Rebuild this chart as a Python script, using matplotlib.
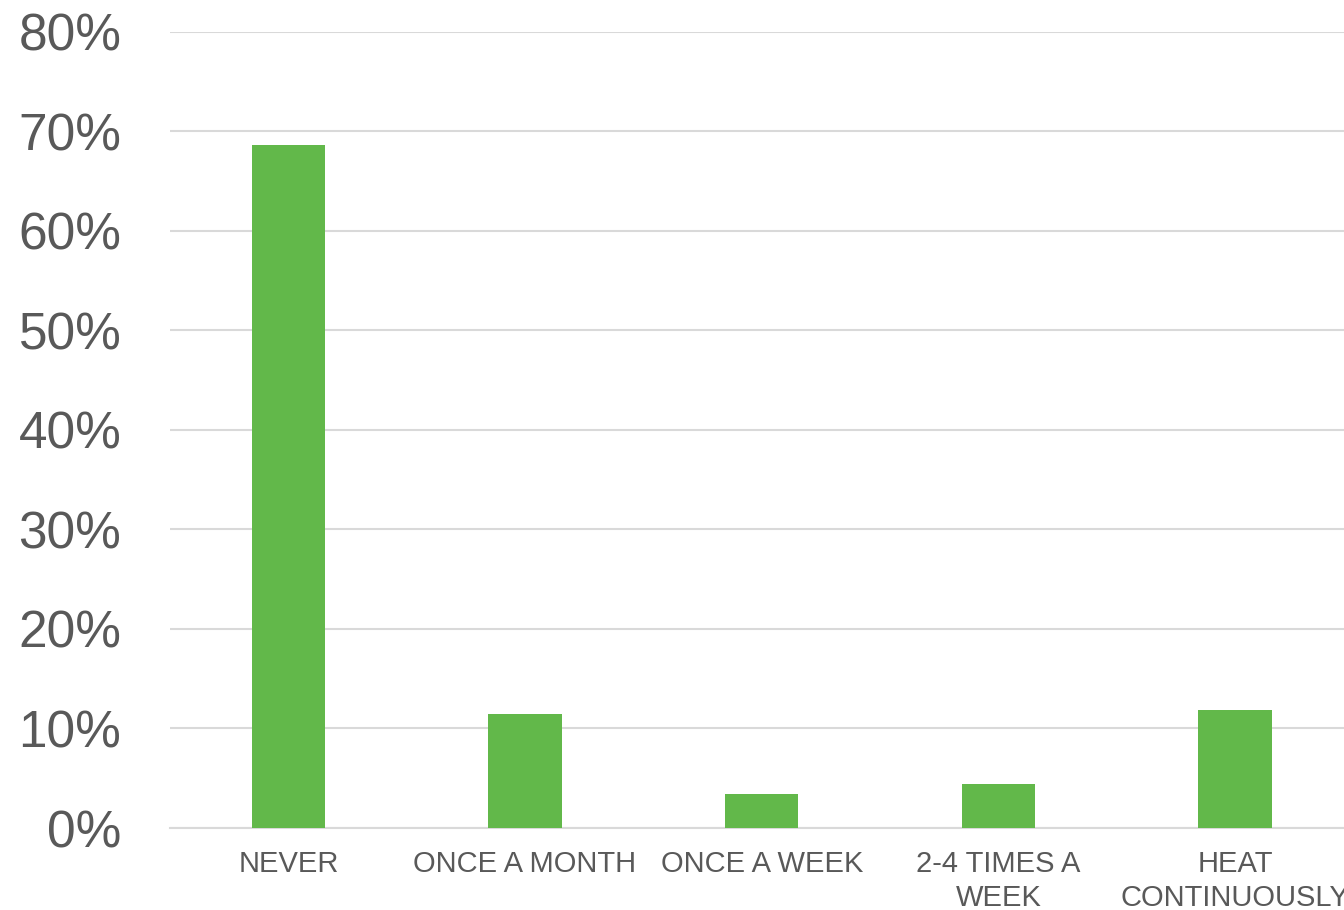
#!/usr/bin/env python3

import matplotlib
matplotlib.use("Agg")
import matplotlib.pyplot as plt
from matplotlib.ticker import FuncFormatter

# ==========================
# DATA
# ==========================
categories = ["NEVER", "ONCE A MONTH", "ONCE A WEEK", "2-4 TIMES A\nWEEK", "HEAT\nCONTINUOUSLY"]
shares = [68.6, 11.5, 3.4, 4.4, 11.9]
y_ticks = [0, 10, 20, 30, 40, 50, 60, 70, 80]

# ==========================
# STYLE
# ==========================
BAR_COLOR = "#62B84A"
TEXT_COLOR = "#595959"
GRID_COLOR = "#D9D9D9"

plt.rcParams["font.family"] = ["Liberation Sans", "DejaVu Sans"]

W, H = 1344, 910
fig = plt.figure(figsize=(W / 100, H / 100), dpi=100)

# plot area runs past the right edge, as in the reference
x0, x1 = 170, 1353.5
y0, y1 = 828, 31.5
ax = fig.add_axes([x0 / W, 1 - y0 / H, (x1 - x0) / W, (y0 - y1) / H])

x = range(len(categories))
ax.bar(x, shares, width=0.31, color=BAR_COLOR, zorder=3)

ax.set_xlim(-0.5, len(categories) - 0.5)
ax.set_ylim(0, 80)
ax.set_yticks(y_ticks)
ax.yaxis.set_major_formatter(FuncFormatter(lambda v, _: f"{v:.0f}%"))
ax.set_xticks(list(x))
ax.set_xticklabels(categories, fontsize=21, color=TEXT_COLOR, linespacing=1.25)

ax.tick_params(axis="y", length=0, pad=35, labelsize=37, labelcolor=TEXT_COLOR)
ax.tick_params(axis="x", length=0, pad=16)

ax.grid(axis="y", color=GRID_COLOR, linewidth=1.5, zorder=0)
for side in ["top", "right", "left"]:
    ax.spines[side].set_visible(False)
ax.spines["bottom"].set_color(GRID_COLOR)
ax.spines["bottom"].set_linewidth(1.5)

fig.savefig("out.png", dpi=100)
